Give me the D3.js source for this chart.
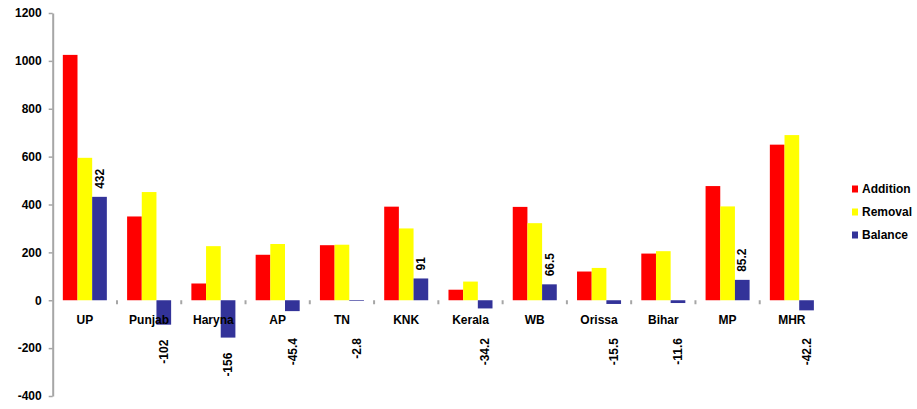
<!DOCTYPE html>
<html>
<head>
<meta charset="utf-8">
<script src="https://cdn.jsdelivr.net/npm/d3@7"></script>
<style>
  html, body { margin: 0; padding: 0; background: #fff; }
  svg { display: block; font-family: "Liberation Sans", Arial, sans-serif; font-weight: bold; }
</style>
</head>
<body>
<svg id="chart" width="917" height="409"></svg>
<script>
// State-wise addition, removal and resulting balance
const states   = ["UP", "Punjab", "Haryna", "AP", "TN", "KNK", "Kerala", "WB", "Orissa", "Bihar", "MP", "MHR"];
const addition = [1025, 350, 70, 190, 230, 391, 44, 390, 120, 195, 477, 650];
const removal  = [595, 452, 226, 235, 232, 300, 78, 322, 135, 205, 392, 690];
const balance  = [432, -102, -156, -45.4, -2.8, 91, -34.2, 66.5, -15.5, -11.6, 85.2, -42.2];
const seriesNames  = ["Addition", "Removal", "Balance"];
const seriesColors = ["#FF0000", "#FFFF00", "#333399"];
const yTicks = [-400, -200, 0, 200, 400, 600, 800, 1000, 1200];

const svg = d3.select("#chart");
const gray = "#A6A6A6";

const y = d3.scaleLinear().domain([-400, 1200]).range([396, 13]);
const x0 = d3.scaleBand().domain(states).range([52.7, 824]).padding(0);
const x1 = d3.scaleBand().domain(seriesNames).range([0, x0.bandwidth()])
  .paddingInner(0).paddingOuter(0.69);
const color = d3.scaleOrdinal().domain(seriesNames).range(seriesColors);

const rows = states.map((s, i) => ({
  state: s,
  values: [addition[i], removal[i], balance[i]]
}));

// Y axis (plain hyphen minus, no thousands separator)
const yAxis = svg.append("g")
  .attr("transform", `translate(${x0.range()[0]},0)`)
  .call(d3.axisLeft(y).tickValues(yTicks).tickFormat(d => String(d))
    .tickSize(4).tickSizeOuter(0).tickPadding(7));
yAxis.select(".domain").attr("stroke", gray).attr("stroke-width", 2);
yAxis.selectAll(".tick line").attr("stroke", gray).attr("stroke-width", 1.5);
yAxis.selectAll(".tick text")
  .attr("fill", "#000").attr("font-size", 12).attr("font-weight", "bold")
  .attr("font-family", "\"Liberation Sans\", Arial, sans-serif");

// Bars
const groups = svg.append("g").selectAll("g")
  .data(rows).join("g")
  .attr("transform", d => `translate(${x0(d.state)},0)`);

groups.selectAll("rect")
  .data(d => d.values.map((v, k) => ({ key: seriesNames[k], value: v })))
  .join("rect")
  .attr("x", d => x1(d.key))
  .attr("width", x1.bandwidth())
  .attr("y", d => y(Math.max(0, d.value)))
  .attr("height", d => Math.abs(y(d.value) - y(0)))
  .attr("fill", d => color(d.key));

// Category separator ticks on the zero line
svg.append("g").selectAll("line")
  .data(states.slice(1))
  .join("line")
  .attr("x1", d => x0(d)).attr("x2", d => x0(d))
  .attr("y1", y(0)).attr("y2", y(0) + 4)
  .attr("stroke", gray).attr("stroke-width", 2);

// Category labels
svg.append("g").selectAll("text")
  .data(states)
  .join("text")
  .attr("x", d => x0(d) + x0.bandwidth() / 2)
  .attr("y", y(0) + 24)
  .attr("text-anchor", "middle")
  .attr("font-size", 12)
  .text(d => d);

// Rotated value labels on the balance bars
const bx = x1("Balance") + x1.bandwidth() / 2;
svg.append("g").selectAll("text")
  .data(rows)
  .join("text")
  .attr("font-size", 12)
  .attr("dy", "0.35em")
  .attr("text-anchor", d => d.values[2] >= 0 ? "start" : "end")
  .attr("transform", d => {
    const v = d.values[2];
    const cx = x0(d.state) + bx;
    const cy = v >= 0 ? y(v) - 8 : Math.max(y(v) + 15, 338);
    return `translate(${cx},${cy}) rotate(-90)`;
  })
  .text(d => String(d.values[2]));

// Legend
const legend = svg.append("g").attr("transform", "translate(852,189)");
const li = legend.selectAll("g").data(seriesNames).join("g")
  .attr("transform", (d, i) => `translate(0,${i * 23})`);
li.append("rect").attr("x", 0).attr("y", -3.5).attr("width", 6).attr("height", 7)
  .attr("fill", d => color(d));
li.append("text").attr("x", 10).attr("dy", "0.35em").attr("font-size", 12).text(d => d);
</script>
</body>
</html>
